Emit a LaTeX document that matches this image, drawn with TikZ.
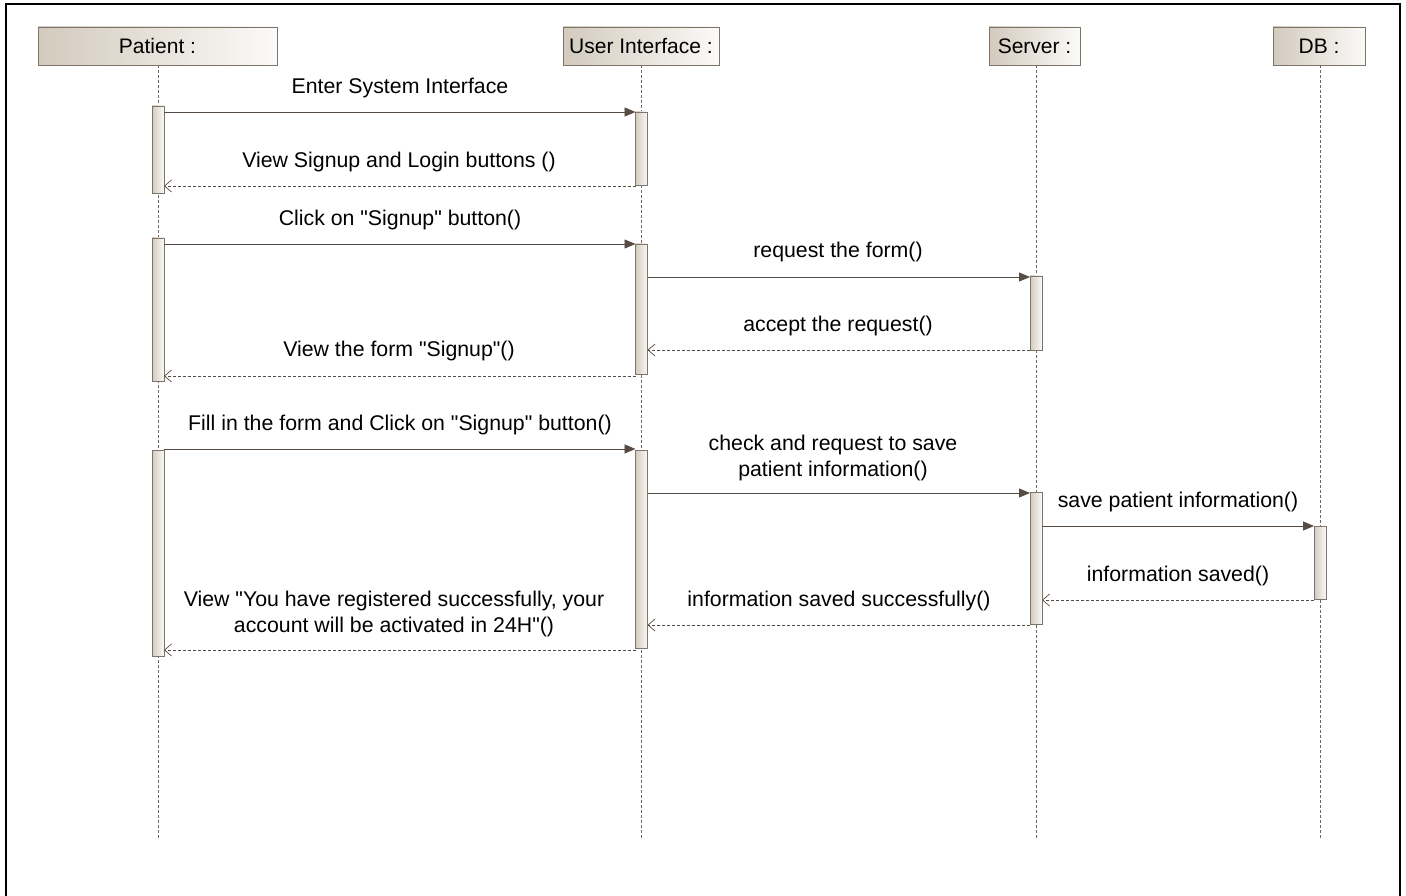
\documentclass[tikz,border=0pt]{standalone}
\usepackage{fontspec}
\setmainfont{Liberation Sans}[Ligatures=TeXOff]
\usetikzlibrary{arrows.meta}
\definecolor{hdrL}{HTML}{D3CABD}
\definecolor{hdrR}{HTML}{FBFAF8}
\definecolor{edge}{HTML}{7D746B}
\definecolor{msg}{HTML}{564C44}
\definecolor{life}{HTML}{6E6660}
\tikzset{
  hdr/.style={draw=edge, line width=0.9pt, left color=hdrL, right color=hdrR, inner sep=0pt, font=\fontsize{21}{25}\selectfont},
  act/.style={draw=edge, line width=0.9pt, left color=hdrL, right color=hdrR, inner sep=0pt, minimum width=12pt},
  lifeline/.style={draw=life, dashed, dash pattern=on 3pt off 2pt, line width=0.7pt},
  callmsg/.style={draw=msg, line width=0.9pt, -{Triangle[length=11pt,width=9pt]}},
  retmsg/.style={draw=msg, line width=0.7pt, dash pattern=on 3pt off 2pt, -{Straight Barb[length=7pt,width=12pt,line width=0.7pt]}},
  lbl/.style={font=\fontsize{21.3}{26}\selectfont, inner sep=0pt, align=center},
}
\begin{document}
\begin{tikzpicture}[x=1pt,y=-1pt]
\useasboundingbox (0,0) rectangle (1406,896);
\fill[white] (0,0) rectangle (1406,896);
% frame
\draw[line width=1.6pt] (6,896) -- (6,4) -- (1400,4) -- (1400,896);
% headers
\node[hdr, minimum width=239pt, minimum height=38pt] (pat) at (157.5,46) {Patient :};
\node[hdr, minimum width=156pt, minimum height=38pt] (ui) at (641,46) {User Interface :};
\node[hdr, minimum width=91pt, minimum height=38pt] (srv) at (1034.5,46) {Server :};
\node[hdr, minimum width=92pt, minimum height=38pt] (db) at (1319,46) {DB :};
% lifelines
\coordinate (patE) at (158,840);
\coordinate (uiE) at (641,840);
\coordinate (srvE) at (1036,840);
\coordinate (dbE) at (1320,840);
\draw[lifeline] (pat.south -| patE) -- (patE);
\draw[lifeline] (ui.south -| uiE) -- (uiE);
\draw[lifeline] (srv.south -| srvE) -- (srvE);
\draw[lifeline] (db.south -| dbE) -- (dbE);
% activation bars
\node[act, minimum height=87pt] (pa1) at (158,149.5) {};
\node[act, minimum height=143pt] (pa2) at (158,309.5) {};
\node[act, minimum height=206pt] (pa3) at (158,553) {};
\node[act, minimum height=73pt] (ua1) at (641.5,148.5) {};
\node[act, minimum height=130pt] (ua2) at (641.5,309) {};
\node[act, minimum height=198pt] (ua3) at (641.5,549) {};
\node[act, minimum height=74pt] (sa1) at (1036,313) {};
\node[act, minimum height=132pt] (sa2) at (1036,558) {};
\node[act, minimum height=73pt] (da1) at (1320,562.5) {};
% message end points
\coordinate (m1a) at (164,112);   \coordinate (m1b) at (635.5,112);
\coordinate (m2a) at (635.5,186); \coordinate (m2b) at (164,186);
\coordinate (m3a) at (164,244);   \coordinate (m3b) at (635.5,244);
\coordinate (m4a) at (647.5,277); \coordinate (m4b) at (1030,277);
\coordinate (m5a) at (1030,350);  \coordinate (m5b) at (647.5,350);
\coordinate (m6a) at (635.5,376); \coordinate (m6b) at (164,376);
\coordinate (m7a) at (164,449);   \coordinate (m7b) at (635.5,449);
\coordinate (m8a) at (647.5,493); \coordinate (m8b) at (1030,493);
\coordinate (m9a) at (1042,526);  \coordinate (m9b) at (1314,526);
\coordinate (m10a) at (1314,600); \coordinate (m10b) at (1042,600);
\coordinate (m11a) at (1030,625); \coordinate (m11b) at (647.5,625);
\coordinate (m12a) at (635.5,650);\coordinate (m12b) at (164,650);
\draw[callmsg] (m1a) -- (m1b);
\draw[retmsg] (m2a) -- (m2b);
\draw[callmsg] (m3a) -- (m3b);
\draw[callmsg] (m4a) -- (m4b);
\draw[retmsg] (m5a) -- (m5b);
\draw[retmsg] (m6a) -- (m6b);
\draw[callmsg] (m7a) -- (m7b);
\draw[callmsg] (m8a) -- (m8b);
\draw[callmsg] (m9a) -- (m9b);
\draw[retmsg] (m10a) -- (m10b);
\draw[retmsg] (m11a) -- (m11b);
\draw[retmsg] (m12a) -- (m12b);
% labels
\node[lbl] (l1) at (400,88) {Enter System Interface};
\node[lbl] (l2) at (399,162) {View Signup and Login buttons ()};
\node[lbl] (l3) at (400,220) {Click on "Signup" button()};
\node[lbl] (l4) at (838,252) {request the form()};
\node[lbl] (l5) at (838,326) {accept the request()};
\node[lbl] (l6) at (399,351) {View the form "Signup"()};
\node[lbl] (l7) at (400,425) {Fill in the form and Click on "Signup" button()};
\node[lbl] (l8) at (833,458) {check and request to save\\patient information()};
\node[lbl] (l9) at (1178,502) {save patient information()};
\node[lbl] (l10) at (1178,576) {information saved()};
\node[lbl] (l11) at (839,601) {information saved successfully()};
\node[lbl] (l12) at (394,614) {View "You have registered successfully, your\\account will be activated in 24H"()};
\end{tikzpicture}
\end{document}
